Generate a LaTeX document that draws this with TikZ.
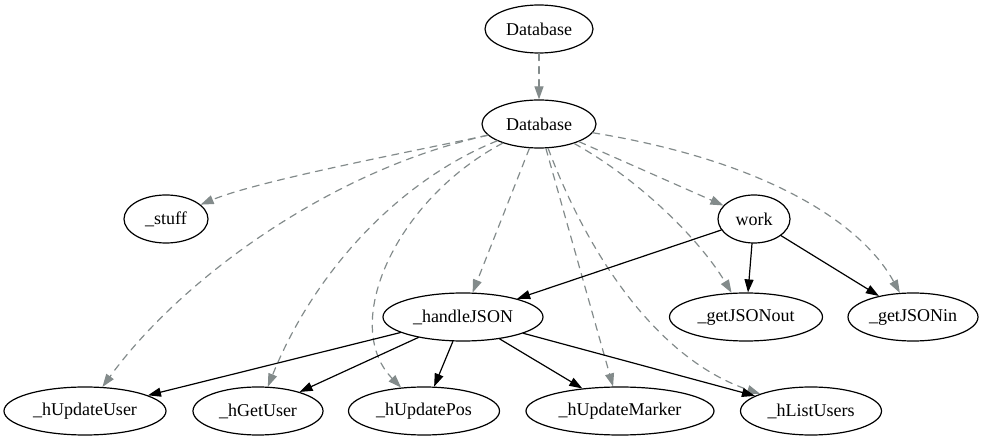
\documentclass[tikz,border=0pt]{standalone}
\usepackage{fontspec}
\setmainfont{Liberation Serif}
\usetikzlibrary{shapes.geometric, arrows.meta}
\definecolor{edgegray}{RGB}{131,139,139}
\begin{document}
\begin{tikzpicture}[x=1bp, y=-1bp, line width=1.2bp, line cap=round,
    >={Triangle[length=13bp, width=9bp]},
    font=\fontsize{18bp}{20bp}\selectfont,
    fn/.style={ellipse, draw, inner sep=0pt, minimum height=48bp},
    dep/.style={->, draw=edgegray, dash pattern=on 7bp off 6bp},
    call/.style={->, draw=black}]
			\useasboundingbox (0,0) rectangle (996,443);
			% modules
			\node[fn, minimum width=108bp] (dbtop) at (539,29) {Database};
			\node[fn, minimum width=114bp] (db) at (539,124) {Database};
			% functions
			\node[fn, minimum width=84bp] (stuff) at (166,219) {\_stuff};
			\node[fn, minimum width=72bp] (work) at (754,219) {work};
			\node[fn, minimum width=160bp] (hjson) at (463,317) {\_handleJSON};
			\node[fn, minimum width=153bp] (jout) at (746,317) {\_getJSONout};
			\node[fn, minimum width=130bp] (jin) at (913,317) {\_getJSONin};
			\node[fn, minimum width=162bp] (updu) at (85,411) {\_hUpdateUser};
			\node[fn, minimum width=130bp] (getu) at (258,411) {\_hGetUser};
			\node[fn, minimum width=151bp] (updp) at (424,411) {\_hUpdatePos};
			\node[fn, minimum width=188bp] (updm) at (620,411) {\_hUpdateMarker};
			\node[fn, minimum width=141bp] (listu) at (811,411) {\_hListUsers};
			% contains
			\draw[dep] (dbtop) -- (db);
			\draw[dep] (db) .. controls (420,150) and (260,180) .. (stuff);
			\draw[dep] (db) .. controls (330,170) and (180,280) .. (updu);
			\draw[dep] (db) .. controls (400,180) and (315,270) .. (getu);
			\draw[dep] (db) .. controls (395,200) and (340,325) .. (updp);
			\draw[dep] (db) -- (hjson);
			\draw[dep] (db) -- (updm);
			\draw[dep] (db) .. controls (590,260) and (660,360) .. (listu);
			\draw[dep] (db) .. controls (640,180) and (700,240) .. (jout);
			\draw[dep] (db) -- (work);
			\draw[dep] (db) .. controls (760,160) and (860,220) .. (jin);
			% calls
			\draw[call] (work) -- (hjson);
			\draw[call] (work) -- (jout);
			\draw[call] (work) -- (jin);
			\foreach \t in {updu, getu, updp, updm, listu}
				\draw[call] (hjson) -- (\t);
		\end{tikzpicture}
\end{document}
